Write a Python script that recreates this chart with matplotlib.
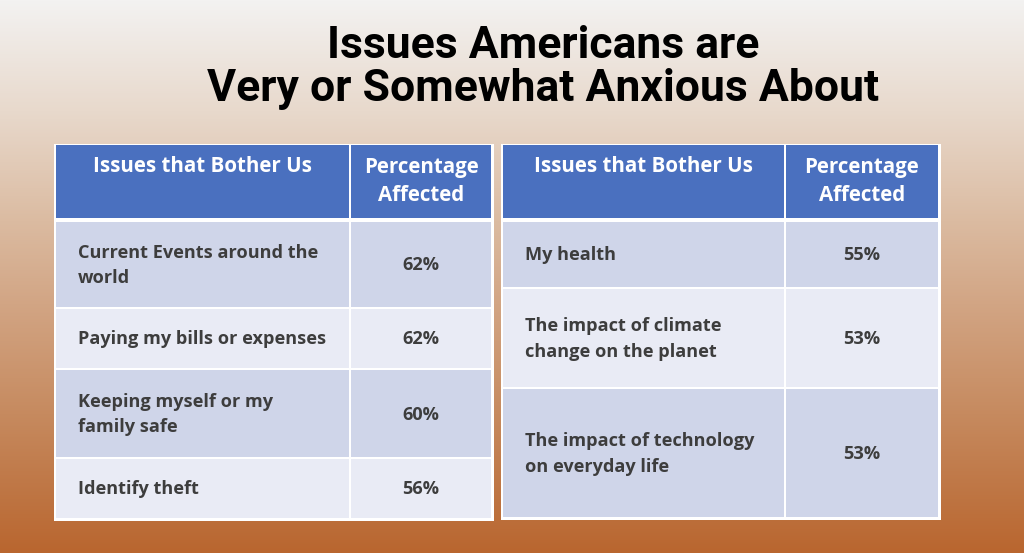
import numpy as np
import matplotlib
matplotlib.use("Agg")
import matplotlib.pyplot as plt
from matplotlib.patches import Rectangle
from matplotlib.colors import LinearSegmentedColormap

# ---- data ----
title_lines = ["Issues Americans are", "Very or Somewhat Anxious About"]
header_issue = "Issues that Bother Us"
header_pct = "Percentage\nAffected"
left_issues = ["Current Events around the\nworld", "Paying my bills or expenses",
               "Keeping myself or my\nfamily safe", "Identify theft"]
left_values = [62, 62, 60, 56]
right_issues = ["My health", "The impact of climate\nchange on the planet",
                "The impact of technology\non everyday life"]
right_values = [55, 53, 53]

# ---- layout (pixels) ----
W, H = 1024, 553
fig = plt.figure(figsize=(W / 100, H / 100), dpi=100)
ax = fig.add_axes([0, 0, 1, 1])
ax.set_xlim(0, W)
ax.set_ylim(H, 0)
ax.axis("off")

bg = LinearSegmentedColormap.from_list(
    "bg", [(0.0, "#f3f2f1"), (0.2, "#e8d9cc"), (0.4, "#dbbba1"),
           (0.55, "#d2a584"), (0.75, "#c68a5f"), (1.0, "#b9662f")])
grad = np.linspace(0, 1, 256).reshape(-1, 1)
ax.imshow(grad, cmap=bg, aspect="auto", extent=[0, W, H, 0], zorder=0)

for i, line in enumerate(title_lines):
    ax.text(543, 46 + i * 43, line, ha="center", va="center", fontsize=32,
            fontweight="bold", family=["Roboto", "DejaVu Sans"], color="black", zorder=5)

HEAD = "#4a70bf"
DARK = "#cfd5e9"
LIGHT = "#e9ebf5"
TXT = "#3d3d3d"
FONT = ["Open Sans", "DejaVu Sans"]
BODY_FS = 13.1
HEAD_FS = 14.8


def draw_table(x0, xdiv, x1, row_edges, issues, values):
    top, hb = 145, 219
    ax.add_patch(Rectangle((x0 - 1.5, top - 1.5), x1 - x0 + 3, row_edges[-1] - top + 3,
                           facecolor="white", edgecolor="none", zorder=1))
    for (a, b) in [(x0, xdiv), (xdiv, x1)]:
        ax.add_patch(Rectangle((a + 1, top), b - a - 2, hb - top - 1.5,
                               facecolor=HEAD, edgecolor="none", zorder=2))
    ax.text((x0 + xdiv) / 2, 166, header_issue, ha="center", va="center", fontsize=HEAD_FS,
            fontweight="bold", family=FONT, color="white", zorder=5)
    ax.text((xdiv + x1) / 2, 181.5, header_pct, ha="center", va="center", fontsize=HEAD_FS,
            fontweight="bold", family=FONT, color="white", zorder=5, linespacing=1.45)
    edges = [hb + 1.5] + list(row_edges[1:])
    for r in range(len(issues)):
        ya, yb = edges[r], edges[r + 1]
        col = DARK if r % 2 == 0 else LIGHT
        for (a, b) in [(x0, xdiv), (xdiv, x1)]:
            ax.add_patch(Rectangle((a + 1, ya + 1), b - a - 2, yb - ya - 2,
                                   facecolor=col, edgecolor="none", zorder=2))
        yc = (ya + yb) / 2 + 1.0
        ax.text(x0 + 23, yc, issues[r], ha="left", va="center", fontsize=BODY_FS,
                fontweight="bold", family=FONT, color=TXT, zorder=5, linespacing=1.52)
        ax.text((xdiv + x1) / 2, yc, f"{values[r]}%", ha="center", va="center",
                fontsize=BODY_FS, fontweight="bold", family=FONT, color=TXT, zorder=5)


draw_table(55, 350, 492, [219, 308, 369, 458, 519], left_issues, left_values)
draw_table(502, 785, 939, [219, 288, 388, 518], right_issues, right_values)

fig.savefig("out.png", dpi=100)
